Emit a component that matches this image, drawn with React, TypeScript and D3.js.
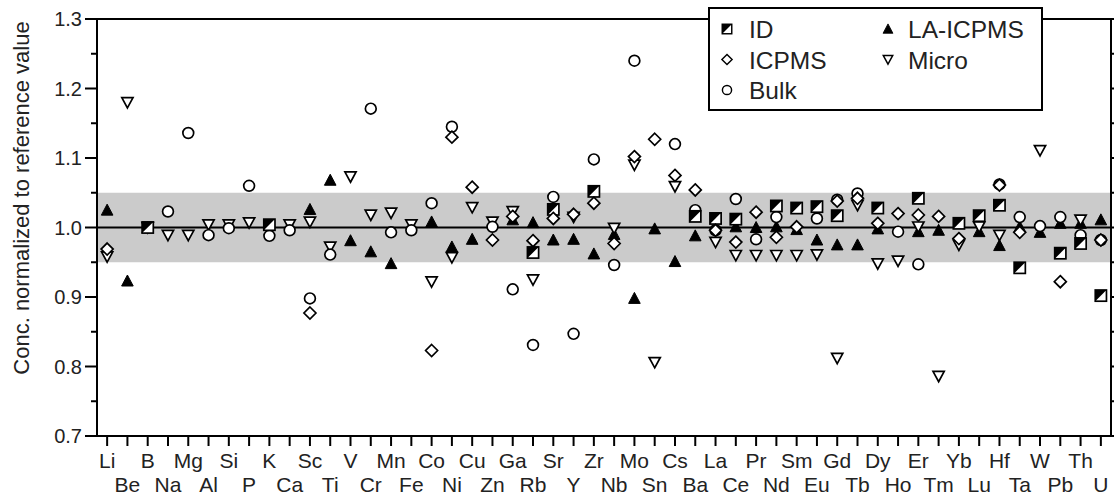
import React from "react";
import * as d3 from "d3";

const elements = ["Li","Be","B","Na","Mg","Al","Si","P","K","Ca","Sc","Ti","V","Cr","Mn","Fe","Co","Ni","Cu","Zn","Ga","Rb","Sr","Y","Zr","Nb","Mo","Sn","Cs","Ba","La","Ce","Pr","Nd","Sm","Eu","Gd","Tb","Dy","Ho","Er","Tm","Yb","Lu","Hf","Ta","W","Pb","Th","U"];

const idValues: (number | null)[] = [null,null,1.0,null,null,null,null,null,1.004,null,null,null,null,null,null,null,null,null,null,null,null,0.964,1.026,null,1.052,null,null,null,null,1.016,1.013,1.012,null,1.031,1.028,1.030,1.017,null,1.028,null,1.042,null,1.006,1.017,1.032,0.942,null,0.963,0.977,0.902];

const icpmsValues: (number | null)[] = [0.969,null,null,null,null,null,null,null,null,null,0.877,null,null,null,null,null,0.823,1.130,1.058,0.982,1.016,0.981,1.013,1.019,1.035,0.977,1.102,1.127,1.075,1.054,0.996,0.979,1.022,0.986,1.001,null,1.038,1.042,1.006,1.020,1.018,1.016,0.984,null,1.061,0.993,null,0.922,null,0.982];

const bulkValues: (number | null)[] = [null,null,null,1.023,1.136,0.989,0.999,1.060,0.988,0.996,0.898,0.961,null,1.171,0.993,0.996,1.035,1.145,null,1.001,0.911,0.831,1.044,0.847,1.098,0.946,1.240,null,1.120,1.025,0.996,1.041,0.983,1.015,null,1.013,1.040,1.049,null,0.994,0.947,null,null,null,1.062,1.015,1.002,1.015,0.989,0.982];

const laValues: (number | null)[] = [1.025,0.923,1.0,null,null,null,null,null,null,null,1.026,1.068,0.981,0.965,0.948,null,1.008,0.972,0.983,null,1.011,1.007,0.982,0.983,0.962,0.990,0.898,0.998,0.951,0.988,null,1.001,1.0,1.001,0.997,0.982,0.975,0.975,0.998,null,0.994,0.996,null,0.994,0.974,1.001,0.993,1.006,1.006,1.011];

const microValues: (number | null)[] = [0.958,1.180,1.0,0.989,0.989,1.004,1.004,1.007,null,1.004,1.008,0.972,1.073,1.018,1.021,1.004,0.922,0.957,1.029,1.008,1.023,0.925,null,1.015,null,0.999,1.090,0.806,1.059,null,0.979,0.960,0.960,0.960,0.960,0.961,0.812,1.032,0.948,0.952,1.001,0.786,0.975,1.001,0.989,null,1.111,null,1.011,null];

const yTicks = [0.7, 0.8, 0.9, 1.0, 1.1, 1.2, 1.3];
const yMinorTicks = [0.75, 0.85, 0.95, 1.05, 1.15, 1.25];

const W = 1114, H = 495;
const L = 97, R = 1111, T = 19, B = 436;
const FONT = "'Liberation Sans', Arial, Helvetica, sans-serif";

type Kind = "ID" | "ICPMS" | "Bulk" | "LA" | "Micro";

function Marker({ kind, x, y, s = 1 }: { kind: Kind; x: number; y: number; s?: number }) {
  const sw = 1.7;
  const tr = `translate(${x},${y}) scale(${s})`;
  if (kind === "ID") {
    return (
      <g transform={tr}>
        <rect x={-5.6} y={-5.6} width={11.2} height={11.2} fill="#fff" stroke="#000" strokeWidth={sw} />
        <path d="M-5.6,5.6 L-5.6,-5.6 L5.6,-5.6 Z" fill="#000" />
      </g>
    );
  }
  if (kind === "ICPMS") {
    return (
      <g transform={tr}>
        <path d="M0,-6 L6,0 L0,6 L-6,0 Z" fill="#fff" stroke="#000" strokeWidth={sw} />
      </g>
    );
  }
  if (kind === "Bulk") {
    return (
      <g transform={tr}>
        <circle r={5.4} fill="#fff" stroke="#000" strokeWidth={sw} />
      </g>
    );
  }
  if (kind === "LA") {
    return (
      <g transform={tr}>
        <path d="M0,-6 L5.8,5 L-5.8,5 Z" fill="#000" stroke="#000" strokeWidth={1} />
      </g>
    );
  }
  return (
    <g transform={tr}>
      <path d="M0,5.5 L5.6,-4.8 L-5.6,-4.8 Z" fill="#fff" stroke="#000" strokeWidth={sw} />
    </g>
  );
}

export default function App() {
  const x = d3.scalePoint<string>().domain(elements).range([L, R]).padding(0.5);
  const y = d3.scaleLinear().domain([0.7, 1.3]).range([B, T]);

  const series: { kind: Kind; vals: (number | null)[] }[] = [
    { kind: "LA", vals: laValues },
    { kind: "Micro", vals: microValues },
    { kind: "Bulk", vals: bulkValues },
    { kind: "ID", vals: idValues },
    { kind: "ICPMS", vals: icpmsValues },
  ];

  return (
    <svg width={W} height={H} style={{ position: "absolute", left: 0, top: 0, background: "#fff" }} fontFamily={FONT}>
      <rect x={0} y={0} width={W} height={H} fill="#fff" />
      {/* band */}
      <rect x={L} y={y(1.05)} width={R - L} height={y(0.95) - y(1.05)} fill="#cbcbcb" />
      <line x1={L} x2={R} y1={y(1.0)} y2={y(1.0)} stroke="#000" strokeWidth={2} />

      {/* frame */}
      <rect x={L} y={T} width={R - L} height={B - T} fill="none" stroke="#000" strokeWidth={2} />

      {/* y ticks */}
      {yTicks.map((t) => (
        <g key={"yt" + t}>
          <line x1={L - 12} x2={L} y1={y(t)} y2={y(t)} stroke="#000" strokeWidth={2} />
          <line x1={R} x2={R + 3} y1={y(t)} y2={y(t)} stroke="#000" strokeWidth={2} />
          <text x={L - 15} y={y(t)} dy="0.36em" textAnchor="end" fontSize={20} fill="#222">
            {t.toFixed(1)}
          </text>
        </g>
      ))}
      {yMinorTicks.map((t) => (
        <g key={"ym" + t}>
          <line x1={L - 6} x2={L} y1={y(t)} y2={y(t)} stroke="#000" strokeWidth={2} />
          <line x1={R} x2={R + 3} y1={y(t)} y2={y(t)} stroke="#000" strokeWidth={2} />
        </g>
      ))}

      {/* x ticks */}
      {elements.map((e, i) => (
        <g key={"xt" + e}>
          <line x1={x(e)!} x2={x(e)!} y1={B} y2={B + 10} stroke="#000" strokeWidth={2} />
          <text x={x(e)!} y={i % 2 === 0 ? 468 : 492} textAnchor="middle" fontSize={21} fill="#222">
            {e}
          </text>
        </g>
      ))}

      {/* y title */}
      <text transform={`translate(29,${198}) rotate(-90)`} textAnchor="middle" fontSize={22} fill="#222">
        Conc. normalized to reference value
      </text>

      {/* markers */}
      {series.map((s) =>
        s.vals.map((v, i) =>
          v == null ? null : <Marker key={s.kind + i} kind={s.kind} x={x(elements[i])!} y={y(v)} />
        )
      )}

      {/* legend */}
      <rect x={709} y={8} width={333} height={102} fill="#fff" stroke="#000" strokeWidth={2} />
      <Marker kind="ID" x={727} y={29} s={0.85} />
      <text x={749} y={38} fontSize={24.5} fill="#222">ID</text>
      <Marker kind="ICPMS" x={727} y={59.5} s={0.85} />
      <text x={749} y={68.5} fontSize={24.5} fill="#222">ICPMS</text>
      <Marker kind="Bulk" x={727} y={90} s={0.85} />
      <text x={749} y={99} fontSize={24.5} fill="#222">Bulk</text>
      <Marker kind="LA" x={888} y={29} s={0.85} />
      <text x={908} y={38} fontSize={24.5} fill="#222">LA-ICPMS</text>
      <Marker kind="Micro" x={888} y={59.5} s={0.85} />
      <text x={908} y={68.5} fontSize={24.5} fill="#222">Micro</text>
    </svg>
  );
}
